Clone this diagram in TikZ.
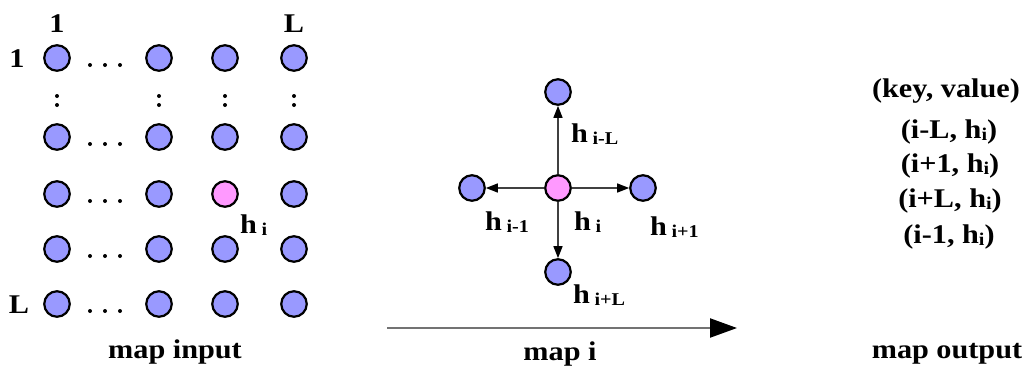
\documentclass[tikz,border=0pt]{standalone}
\usepackage{fontspec}
\setmainfont{Liberation Serif}[FakeStretch=1.12]
\usetikzlibrary{arrows.meta,calc,positioning}

\definecolor{nodeblue}{RGB}{153,153,255}
\definecolor{nodepink}{RGB}{255,153,255}
\newcommand{\sbs}[1]{\raisebox{-2pt}{\fontsize{18}{18}\selectfont #1}}

\begin{document}
\begin{tikzpicture}[x=1pt, y=-1pt,
  cell/.style={circle, draw, line width=2.2pt, fill=nodeblue, minimum size=25.5pt, inner sep=0pt},
  hot/.style={cell, fill=nodepink},
  lbl/.style={font=\fontsize{27}{30}\selectfont\bfseries, inner sep=0pt},
  link/.style={-{Triangle[length=12pt, width=9pt, color=black]}, line width=1.5pt, draw=black!75},
  flow/.style={-{Triangle[length=27pt, width=19pt, color=black]}, line width=2.2pt, draw=black!55}]
  \useasboundingbox (0,0) rectangle (1027,370);

  % Input grid
  \foreach \r/\y in {1/58,2/137,3/194,4/249,5/304}
    \foreach \c/\x in {1/57,2/159,3/225,4/294} {
      \ifnum\r\c=33 \def\look{hot}\else\def\look{cell}\fi
      \node[\look] (g\r\c) at (\x,\y) {};
    }
  \foreach \y in {58,137,194,249,304}
    \foreach \dx in {-15,0,15}
      \fill (105+\dx,\y+7) circle (2pt);
  \foreach \x in {57,159,225,294} {
    \fill (\x,96) circle (2pt);
    \fill (\x,105) circle (2pt);
  }
  \node[lbl, anchor=base] (colfirst) at (57,32) {1};
  \node[lbl, anchor=base] (collast) at (294,32) {L};
  \node[lbl, anchor=base] (rowfirst) at (17,67) {1};
  \node[lbl, anchor=base] (rowlast) at (19,313) {L};
  \node[lbl, anchor=base west] (hgrid) at (240,233) {h\,\sbs{i}};

  % Neighbours of h_i
  \node[hot] (ctr) at (558,188) {};
  \node[cell] (up) at (558,92) {};
  \node[cell] (lt) at (472,188) {};
  \node[cell] (rt) at (643,188) {};
  \node[cell] (dn) at (558,272) {};
  \draw[link] (ctr) -- (up);
  \draw[link] (ctr) -- (lt);
  \draw[link] (ctr) -- (rt);
  \draw[link] (ctr) -- (dn);
  \node[lbl, anchor=base west] (hup) at (571,142) {h\,\sbs{i-L}};
  \node[lbl, anchor=base west] (hlt) at (485,230) {h\,\sbs{i-1}};
  \node[lbl, anchor=base west] (hctr) at (574,230) {h\,\sbs{i}};
  \node[lbl, anchor=base west] (hrt) at (650,235) {h\,\sbs{i+1}};
  \node[lbl, anchor=base west] (hdn) at (573,303) {h\,\sbs{i+L}};

  % Map arrow
  \coordinate (mapstart) at (387,328);
  \coordinate (mapend) at (737,328);
  \draw[flow] (mapstart) -- (mapend);

  % Emitted pairs
  \node[lbl, anchor=base] (head) at (946,97) {(key, value)};
  \node[lbl, anchor=base] (kv1) at (949,138) {(i-L, h\sbs{i})};
  \node[lbl, anchor=base] (kv2) at (950,172) {(i+1, h\sbs{i})};
  \node[lbl, anchor=base] (kv3) at (950,207) {(i+L, h\sbs{i})};
  \node[lbl, anchor=base] (kv4) at (949,243) {(i-1, h\sbs{i})};

  % Captions
  \node[lbl, anchor=base] (capin) at (175,358) {map input};
  \node[lbl, anchor=base] (capmap) at (560,360) {map i};
  \node[lbl, anchor=base] (capout) at (947,358) {map output};
\end{tikzpicture}
\end{document}
